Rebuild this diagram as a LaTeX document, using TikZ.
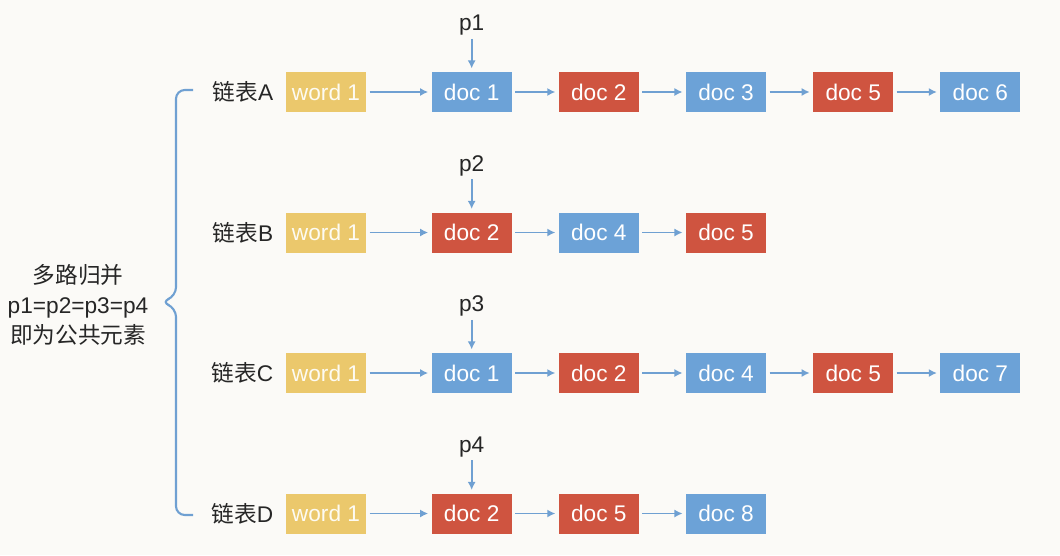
\documentclass[tikz,border=0pt]{standalone}
\usepackage{fontspec}
\setmainfont{Liberation Sans}
\newfontfamily\cjk{Noto Sans CJK SC}
\usepackage{tikz}
\usetikzlibrary{arrows,arrows.meta,positioning,shapes}

\definecolor{docblue}{HTML}{6CA2D7}
\definecolor{docred}{HTML}{CF5440}
\definecolor{wordyellow}{HTML}{EBC86C}
\definecolor{linkblue}{HTML}{6FA0D2}
\definecolor{paper}{HTML}{FBFAF7}

\begin{document}
\begin{tikzpicture}[x=0.02cm,y=-0.02cm,
            font=\fontsize{12.9}{15.5}\selectfont,
            box/.style={rectangle,minimum width=1.6cm,minimum height=0.8cm,inner sep=0,text=white,node distance=0.93cm},
            blue/.style={box,fill=docblue},
            red/.style={box,fill=docred},
            word/.style={box,fill=wordyellow,text=white!92!wordyellow},
            lab/.style={inner sep=0,text=black!85},
            ptr/.style={lab,node distance=0.72cm},
            link/.style={draw=linkblue,-{Latex[length=4.6pt,width=4.6pt]},line width=0.95pt,shorten >=1.8pt,shorten <=1.8pt}
          ]
          \fill[paper] (0,0) rectangle (1060,555);

          % row A
          \node[word] (wA) at (326,92) {word 1};
          \node[blue,right=1.3cm of wA] (a1) {doc 1};
          \node[red,right=of a1] (a2) {doc 2};
          \node[blue,right=of a2] (a3) {doc 3};
          \node[red,right=of a3] (a4) {doc 5};
          \node[blue,right=of a4] (a5) {doc 6};

          % row B
          \node[word] (wB) at (326,232.5) {word 1};
          \node[red,right=1.3cm of wB] (b1) {doc 2};
          \node[blue,right=of b1] (b2) {doc 4};
          \node[red,right=of b2] (b3) {doc 5};

          % row C
          \node[word] (wC) at (326,373) {word 1};
          \node[blue,right=1.3cm of wC] (c1) {doc 1};
          \node[red,right=of c1] (c2) {doc 2};
          \node[blue,right=of c2] (c3) {doc 4};
          \node[red,right=of c3] (c4) {doc 5};
          \node[blue,right=of c4] (c5) {doc 7};

          % row D
          \node[word] (wD) at (326,513.5) {word 1};
          \node[red,right=1.3cm of wD] (d1) {doc 2};
          \node[red,right=of d1] (d2) {doc 5};
          \node[blue,right=of d2] (d3) {doc 8};

          %labels
          \node[lab,left=0.24cm of wA] (lA) {{\cjk 链表}A};
          \node[lab,left=0.24cm of wB] (lB) {{\cjk 链表}B};
          \node[lab,left=0.24cm of wC] (lC) {{\cjk 链表}C};
          \node[lab,left=0.24cm of wD] (lD) {{\cjk 链表}D};
          \node[lab,align=center,font=\fontsize{12.9}{17.2}\selectfont] (merge) at (78,305)
               {{\cjk 多路归并}\\p1=p2=p3=p4\\{\cjk 即为公共元素}};

          % pointers
          \node[ptr,above=of a1] (p1) {p1};
          \node[ptr,above=of b1] (p2) {p2};
          \node[ptr,above=of c1] (p3) {p3};
          \node[ptr,above=of d1] (p4) {p4};
          \draw[link] (p1) -- (a1);
          \draw[link] (p2) -- (b1);
          \draw[link] (p3) -- (c1);
          \draw[link] (p4) -- (d1);

          % lists
          \draw[link] (wA) -- (a1);
          \draw[link] (a1) -- (a2);
          \draw[link] (a2) -- (a3);
          \draw[link] (a3) -- (a4);
          \draw[link] (a4) -- (a5);
          \draw[link] (wB) -- (b1);
          \draw[link] (b1) -- (b2);
          \draw[link] (b2) -- (b3);
          \draw[link] (wC) -- (c1);
          \draw[link] (c1) -- (c2);
          \draw[link] (c2) -- (c3);
          \draw[link] (c3) -- (c4);
          \draw[link] (c4) -- (c5);
          \draw[link] (wD) -- (d1);
          \draw[link] (d1) -- (d2);
          \draw[link] (d2) -- (d3);

          % brace
          \coordinate (bTop) at (193,90);
          \coordinate (bTip) at (161,302);
          \coordinate (bBot) at (193,515);
          \draw[linkblue,line width=1.2pt,rounded corners=5pt]
               (bTop) -| (176,296) -- (bTip) -- (176,308) |- (bBot);
      \end{tikzpicture}
\end{document}
